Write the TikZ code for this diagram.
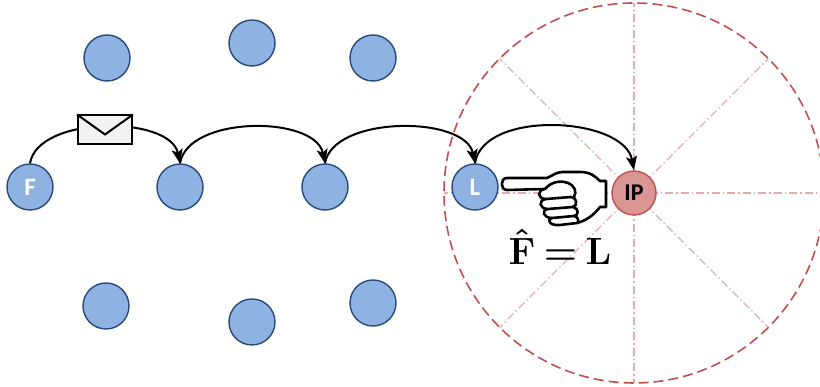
\RequirePackage{fix-cm}
\documentclass[tikz,border=0pt]{standalone}
\usepackage{fontspec}
\usepackage{amsmath}
\newfontfamily\carlitofont{Carlito}
\usetikzlibrary{arrows.meta}
\definecolor{peerfill}{RGB}{142,179,226}
\definecolor{peerline}{RGB}{41,73,125}
\definecolor{ipfill}{RGB}{217,150,148}
\definecolor{ipline}{RGB}{192,80,77}
\definecolor{rangeline}{RGB}{192,80,77}
\definecolor{spokeline}{RGB}{228,172,172}
\definecolor{envfill}{RGB}{242,242,242}
\newsavebox\estbox
\tikzset{
  peer/.style={circle, draw=peerline, fill=peerfill, line width=1.4pt,
    minimum size=46pt, inner sep=0pt, text=white,
    font=\carlitofont\bfseries\fontsize{25}{25}\selectfont},
  ipnode/.style={circle, draw=ipline, fill=ipfill, line width=1.4pt,
    minimum size=44pt, inner sep=0pt, text=black,
    font=\carlitofont\bfseries\fontsize{24}{24}\selectfont},
  hop/.style={line width=2pt, -{Stealth[length=14pt,width=11pt,inset=3pt]}},
  spoke/.style={spokeline, line width=1.2pt, dash pattern=on 8pt off 3pt on 1.5pt off 3pt},
  rangecircle/.style={rangeline, line width=1.6pt, dash pattern=on 10pt off 5pt},
  handline/.style={line width=2.6pt, line join=round, line cap=round},
}
\begin{document}
\sbox\estbox{\fontsize{38}{38}\selectfont\boldmath\thickmuskip=3.5mu\(\hat{\mathbf{F}}=\mathbf{L}\)}%
\begin{tikzpicture}[x=1pt,y=1pt]
  \useasboundingbox (0,0) rectangle (820,387);
  \clip (0,0) rectangle (820,387);

  % transmission range of the IP node
  \coordinate (c) at (634,194);
  \foreach \a in {0,45,...,315}
    \draw[spoke] (c) -- ++(\a:190);
  \draw[rangecircle] (c) circle[radius=190];

  % peers
  \node[peer] (f)  at (30,200)  {F};
  \node[peer] (p2) at (180,200) {};
  \node[peer] (p3) at (325,200) {};
  \node[peer] (l)  at (475,200) {L};
  \node[peer] (t1) at (107,329) {};
  \node[peer] (t2) at (252,344) {};
  \node[peer] (t3) at (373,329) {};
  \node[peer] (b1) at (106,81)  {};
  \node[peer] (b2) at (252,65)  {};
  \node[peer] (b3) at (373,84)  {};
  \node[ipnode] (ip) at (c) {IP};

  % message hops
  \draw[hop] (f.north) .. controls +(8,48) and +(-10,48) .. (p2.north);
  \draw[hop] (p2.north) .. controls +(8,48) and +(-10,48) .. (p3.north);
  \draw[hop] (p3.north) .. controls +(8,48) and +(-10,48) .. (l.north);
  \draw[hop] (l.north) .. controls +(8,54) and +(-10,54) .. (ip.north);

  % envelope on the first hop
  \node[draw=black, fill=envfill, line width=2pt, minimum width=54pt,
        minimum height=29pt, inner sep=0pt] (env) at (105,257) {};
  \draw[line width=2pt, line join=miter] (env.north west) -- ([yshift=-20pt]env.north) -- (env.north east);

  % pointing hand (drawn in coordinates measured from the top edge)
  \begin{scope}[yshift=387pt, yscale=-1]
    \draw[handline, fill=white]
      (545,189) .. controls (537,190) and (537,199) .. (546,199)
      .. controls (538,200) and (539,209) .. (548,209)
      .. controls (541,210) and (543,218) .. (552,218)
      .. controls (546,220) and (550,226) .. (560,225)
      -- (577,223) .. controls (589,220) and (596,212) .. (600,207)
      -- (606,207) -- (606,181) -- (600,181)
      .. controls (595,176) and (590,172) .. (580,172)
      -- (563,172) .. controls (556,172) and (552,176) .. (547,178)
      -- (507,178) .. controls (500,178) and (500,190) .. (507,190)
      -- cycle;
    % thumb and curled fingers
    \draw[handline] (545,189) .. controls (551,182) and (560,180) .. (568,183)
      .. controls (575,186) and (577,192) .. (574,197);
    \draw[handline] (546,199) -- (571,197) .. controls (577,197) and (578,206) .. (573,207);
    \draw[handline] (548,209) -- (573,207) .. controls (579,208) and (579,216) .. (574,216);
    \draw[handline] (552,218) -- (574,216) .. controls (579,217) and (579,222) .. (577,223);
  \end{scope}

  % estimate of the first sender
  \node[inner sep=0pt, anchor=base] (estimate) at (560,122) {\usebox\estbox};
\end{tikzpicture}
\end{document}
